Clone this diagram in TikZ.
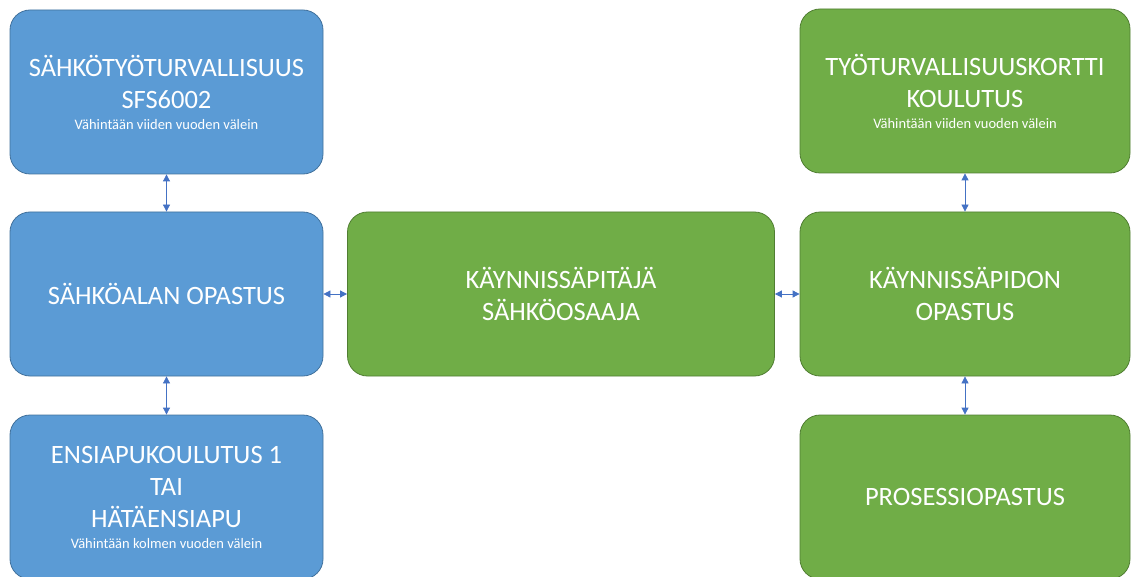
\documentclass[tikz,border=0pt]{standalone}
\usepackage{fontspec}
\setmainfont{Carlito}
\usepackage{tikz}
\usetikzlibrary{arrows.meta}
\definecolor{boxblue}{HTML}{5B9BD5}
\definecolor{edgeblue}{HTML}{41719C}
\definecolor{boxgreen}{HTML}{70AD47}
\definecolor{edgegreen}{HTML}{507E32}
\definecolor{linkblue}{HTML}{4472C4}

\begin{document}
\begin{tikzpicture}[x=1pt, y=-1pt,
    card/.style={rectangle, rounded corners=20pt, line width=0.8pt, text=white,
      align=center, minimum height=164pt, inner sep=0pt,
      font=\fontsize{26.5}{32}\selectfont},
    bluecard/.style={card, fill=boxblue, draw=edgeblue, minimum width=313pt},
    greencard/.style={card, fill=boxgreen, draw=edgegreen},
    link/.style={{Triangle[length=7pt,width=7pt]}-{Triangle[length=7pt,width=7pt]},
      draw=linkblue, fill=linkblue, line width=0.8pt}]
  \useasboundingbox (0,0) rectangle (1131,577);
  \begin{scope}
    \node[bluecard] (sfs) at (166.5,92)
      {SÄHKÖTYÖTURVALLISUUS\\SFS6002\\[-11pt]{\fontsize{14.5}{16}\selectfont Vähintään viiden vuoden välein}};
    \node[bluecard] (alan) at (166.5,294) {SÄHKÖALAN OPASTUS};
    \node[bluecard] (ensi) at (166.5,497)
      {ENSIAPUKOULUTUS 1\\TAI\\HÄTÄENSIAPU\\[-11pt]{\fontsize{14.5}{16}\selectfont Vähintään kolmen vuoden välein}};
    \node[greencard, minimum width=427pt] (osaaja) at (561,294) {KÄYNNISSÄPITÄJÄ\\SÄHKÖOSAAJA};
    \node[greencard, minimum width=330pt] (kortti) at (965,91)
      {TYÖTURVALLISUUSKORTTI\\KOULUTUS\\[-11pt]{\fontsize{14.5}{16}\selectfont Vähintään viiden vuoden välein}};
    \node[greencard, minimum width=330pt] (pidon) at (965,294) {KÄYNNISSÄPIDON\\OPASTUS};
    \node[greencard, minimum width=330pt] (prosessi) at (965,497) {PROSESSIOPASTUS};
  \end{scope}
  \draw[link] (sfs) -- (alan);
  \draw[link] (alan) -- (ensi);
  \draw[link] (alan) -- (osaaja);
  \draw[link] (osaaja) -- (pidon);
  \draw[link] (kortti) -- (pidon);
  \draw[link] (pidon) -- (prosessi);
\end{tikzpicture}
\end{document}
